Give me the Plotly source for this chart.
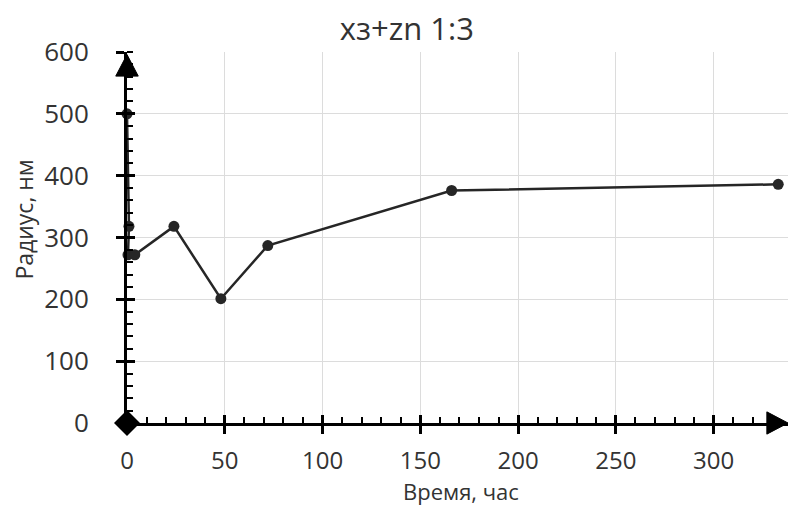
import plotly.graph_objects as go

# data
time_h = [0, 1, 0.5, 4, 24, 48, 72, 166, 333]
radius_nm = [500, 318, 272, 272, 318, 201, 287, 376, 386]

x_ticks = [0, 50, 100, 150, 200, 250, 300]
y_ticks = [0, 100, 200, 300, 400, 500, 600]

FONT = "Open Sans"
INK = "#262626"
TXT = "#333333"

fig = go.Figure()

fig.add_trace(go.Scatter(
    x=time_h, y=radius_nm, mode="lines+markers",
    line=dict(color=INK, width=2.5),
    marker=dict(color=INK, size=11),
    cliponaxis=False, showlegend=False, hoverinfo="x+y"))

# axis decoration: origin diamond
fig.add_trace(go.Scatter(
    x=[0], y=[0], mode="markers",
    marker=dict(symbol="diamond", size=20, color="black"),
    cliponaxis=False, showlegend=False, hoverinfo="skip"))

fig.update_layout(
    width=790, height=508,
    margin=dict(l=127, r=2, t=52, b=85),
    paper_bgcolor="white", plot_bgcolor="white",
    font=dict(family=FONT, size=24, color=TXT),
    title=dict(text="хз+zn 1:3", x=0.515, xanchor="center", y=0.943, yanchor="middle",
               font=dict(family=FONT, size=31, color=TXT)),
    xaxis=dict(range=[0, 338], tickvals=x_ticks, showgrid=True, gridcolor="#dcdcdc", gridwidth=1,
               showline=True, linecolor="black", linewidth=3, zeroline=False,
               ticks="outside", ticklen=8, tickwidth=2.5, tickcolor="black",
               ticklabelstandoff=6,
               minor=dict(dtick=10, tick0=0, ticks="inside", ticklen=6, tickwidth=2, tickcolor="black", showgrid=False),
               tickfont=dict(size=24)),
    yaxis=dict(range=[0, 600], tickvals=y_ticks, showgrid=True, gridcolor="#dcdcdc", gridwidth=1,
               showline=True, linecolor="black", linewidth=3, zeroline=False,
               ticks="outside", ticklen=8, tickwidth=2.5, tickcolor="black",
               ticklabelstandoff=22,
               minor=dict(dtick=20, tick0=0, ticks="inside", ticklen=6, tickwidth=2, tickcolor="black", showgrid=False),
               tickfont=dict(size=26)),
    xaxis2=dict(overlaying="x", matches="x", range=[0, 338], tickvals=x_ticks, showticklabels=False,
                ticks="inside", ticklen=8, tickwidth=2.5, tickcolor="black", showgrid=False,
                zeroline=False, showline=False, anchor="y"),
    yaxis2=dict(overlaying="y", matches="y", range=[0, 600], tickvals=y_ticks, showticklabels=False,
                ticks="inside", ticklen=8, tickwidth=2.5, tickcolor="black", showgrid=False,
                zeroline=False, showline=False, anchor="x"),
)

# axis titles as annotations for precise placement
fig.add_annotation(text="Время, час", xref="paper", yref="paper", x=0.505, y=-85 / 371,
                   xanchor="center", yanchor="bottom", showarrow=False,
                   font=dict(family=FONT, size=22, color=TXT))
fig.add_annotation(text="Радиус, нм", xref="paper", yref="paper", x=-0.155, y=0.547,
                   xanchor="center", yanchor="middle", showarrow=False, textangle=-90,
                   font=dict(family=FONT, size=23, color=TXT))

# dummy trace to activate the overlay axes
fig.add_trace(go.Scatter(x=[None], y=[None], xaxis="x2", yaxis="y2", showlegend=False, hoverinfo="skip"))

# arrowheads at axis ends (paper coordinates)
fig.add_shape(type="path", xref="paper", yref="paper",
              path="M 0.968,-0.03 L 1.0,0 L 0.968,0.03 Z", fillcolor="black", line=dict(color="black", width=1))
fig.add_shape(type="path", xref="paper", yref="paper",
              path="M -0.017,0.935 L 0,0.993 L 0.017,0.935 Z", fillcolor="black", line=dict(color="black", width=1))

fig.write_html("out.html")
